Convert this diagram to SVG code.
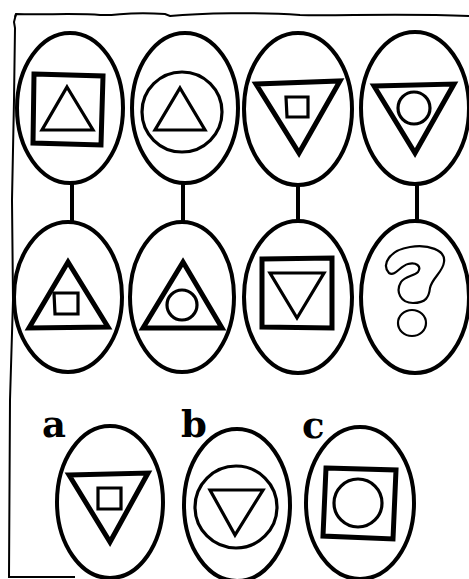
<svg xmlns="http://www.w3.org/2000/svg" width="469" height="579" viewBox="0 0 469 579">
<style>
.ov{fill:none;stroke:#000;stroke-width:4}
.thick{fill:none;stroke:#000;stroke-width:5;stroke-linejoin:miter}
.med{fill:none;stroke:#000;stroke-width:3.2;stroke-linejoin:miter}
.thin{fill:none;stroke:#000;stroke-width:2.2;stroke-linejoin:round}
.frame{fill:none;stroke:#000;stroke-width:2}
.lbl{font-family:"DejaVu Serif","Liberation Serif",serif;font-weight:bold;font-size:37px;fill:#000}
</style>
<rect width="469" height="579" fill="#fff"/>
<g id="frame">
<path class="frame" d="M 15 17 L 16 14 C 40 15, 80 13, 100 15 C 120 16, 125 11, 165 14 L 170 16 C 200 13, 260 12, 300 15 C 340 16, 400 13, 469 16"/>
<path class="frame" d="M 16 14 L 14 22 L 15 28 L 14 100 L 12 200 L 13 300 L 10 400 L 9 577 L 75 577"/>
</g>
<g id="connectors">
<line class="ov" x1="72" y1="182" x2="72" y2="222"/>
<line class="ov" x1="183" y1="182" x2="183" y2="222"/>
<line class="ov" x1="298" y1="183" x2="298" y2="221"/>
<line class="ov" x1="417" y1="183" x2="417" y2="221"/>
</g>
<g id="n1">
<ellipse class="ov" cx="70" cy="108" rx="53" ry="75"/>
<path class="thick" d="M 34 74 L 103 76 L 101 145 L 33 143 Z"/>
<path class="med" d="M 67 87 L 93 130 L 42 130 Z"/>
</g>
<g id="n2">
<ellipse class="ov" cx="185" cy="108" rx="53" ry="75"/>
<circle class="med" cx="182" cy="112" r="40"/>
<path class="med" d="M 180 88 L 205 130 L 155 130 Z"/>
</g>
<g id="n3">
<ellipse class="ov" cx="298" cy="109" rx="54" ry="76"/>
<path class="thick" d="M 256 84 L 340 81 L 299 153 Z"/>
<path class="med" d="M 286 97 L 308 97 L 308 117 L 287 117 Z"/>
</g>
<g id="n4">
<ellipse class="ov" cx="415" cy="108" rx="54" ry="76"/>
<path class="thick" d="M 374 86 L 454 84 L 415 153 Z"/>
<circle class="med" cx="414" cy="108" r="16"/>
</g>
<g id="n5">
<ellipse class="ov" cx="68" cy="297" rx="54" ry="75"/>
<path class="thick" d="M 68 262 L 108 327 L 29 328 Z"/>
<path class="med" d="M 54 293 L 78 293 L 78 314 L 55 314 Z"/>
</g>
<g id="n6">
<ellipse class="ov" cx="182" cy="297" rx="52" ry="75"/>
<path class="thick" d="M 183 262 L 222 328 L 143 328 Z"/>
<circle class="med" cx="182" cy="305" r="15"/>
</g>
<g id="n7">
<ellipse class="ov" cx="298" cy="297" rx="54" ry="76"/>
<path class="thick" d="M 262 259 L 332 258 L 332 328 L 262 327 Z"/>
<path class="med" d="M 270 273 L 324 273 L 297 318 Z"/>
</g>
<g id="n8">
<ellipse class="ov" cx="415" cy="297" rx="54" ry="76"/>
<path class="thin" d="M 389 273 C 381 264, 390 250, 410 247 C 428 244, 446 250, 444 262 C 443 272, 432 278, 430 288 C 429 297, 426 303, 413 303 C 401 303, 395 292, 401 282 C 405 276, 414 276, 418 272 C 422 266, 416 262, 408 264 C 400 266, 395 277, 389 273 Z"/>
<ellipse class="thin" cx="412" cy="323" rx="14" ry="13"/>
</g>
<g id="na">
<text class="lbl" x="42" y="437">a</text>
<ellipse class="ov" cx="110" cy="502" rx="53" ry="76"/>
<path class="thick" d="M 69 475 L 148 473 L 110 542 Z"/>
<path class="med" d="M 98 488 L 121 488 L 121 509 L 98 509 Z"/>
</g>
<g id="nb">
<text class="lbl" x="181" y="437">b</text>
<ellipse class="ov" cx="237" cy="505" rx="53" ry="76"/>
<circle class="med" cx="236" cy="507" r="41"/>
<path class="med" d="M 210 490 L 263 490 L 235 535 Z"/>
</g>
<g id="nc">
<text class="lbl" x="302" y="438">c</text>
<ellipse class="ov" cx="360" cy="503" rx="54" ry="76"/>
<path class="thick" d="M 326 468 L 396 470 L 393 539 L 323 536 Z"/>
<circle class="med" cx="358" cy="503" r="24"/>
</g>
</svg>
